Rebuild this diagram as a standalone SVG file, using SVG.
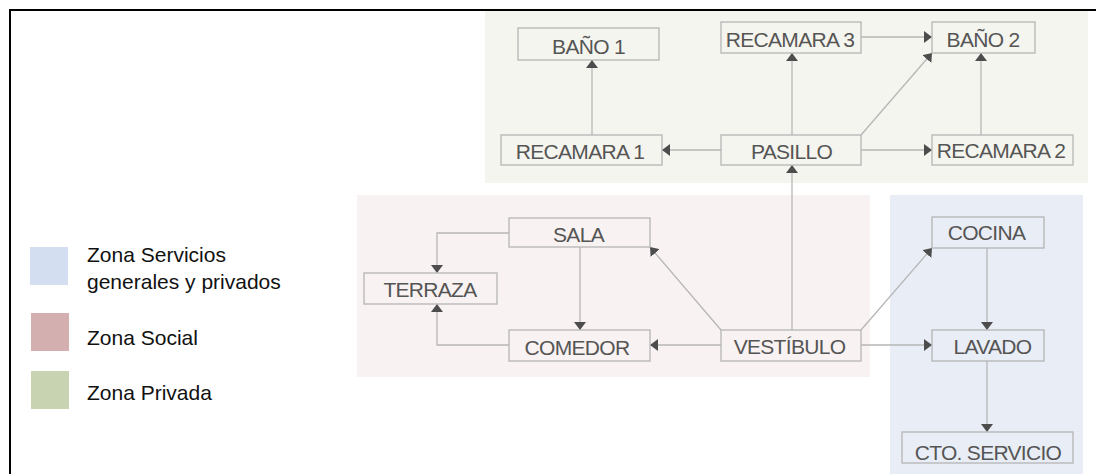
<svg xmlns="http://www.w3.org/2000/svg" width="1096" height="474" viewBox="0 0 1096 474">
  <style>
    .zone { stroke: none; }
    .node rect { fill: none; stroke: #b4b4b4; stroke-width: 1.3; }
    .node text { font-family: "Liberation Sans", Arial, sans-serif; font-size: 21px; fill: #555555; text-anchor: middle; letter-spacing: -0.7px; }
    .link { fill: none; stroke: #b6b6b6; stroke-width: 1.3; marker-end: url(#arrow); }
    .legend text { font-family: "Liberation Sans", Arial, sans-serif; font-size: 21px; fill: #111111; }
  </style>
  <defs>
    <marker id="arrow" viewBox="0 0 8 12" refX="8" refY="6" markerWidth="8" markerHeight="12" markerUnits="userSpaceOnUse" orient="auto">
      <path d="M0,0 L8,6 L0,12 Z" fill="#4d4d4d"/>
    </marker>
  </defs>

  <rect width="1096" height="474" fill="#ffffff"/>

  <!-- zone backgrounds -->
  <g id="zones">
    <rect class="zone" x="485" y="11" width="603" height="172" fill="#f5f5ef"/>
    <rect class="zone" x="357" y="195" width="513" height="182" fill="#f9f2f2"/>
    <rect class="zone" x="890" y="195" width="193" height="279" fill="#e9eef6"/>
  </g>

  <!-- outer frame -->
  <path d="M10,474 V10 H1096" fill="none" stroke="#000000" stroke-width="2"/>

  <!-- legend -->
  <g id="legend" class="legend">
    <rect x="30" y="247" width="38" height="38" fill="#d3dff0"/>
    <text x="87" y="262">Zona Servicios</text>
    <text x="87" y="289">generales y privados</text>
    <rect x="31" y="313" width="38" height="38" fill="#d4afaf"/>
    <text x="87" y="345">Zona Social</text>
    <rect x="31" y="371" width="38" height="38" fill="#c8d4b1"/>
    <text x="87" y="400">Zona Privada</text>
  </g>

  <!-- connectors -->
  <g id="connectors">
    <line class="link" x1="592" y1="135" x2="592" y2="60"/>
    <line class="link" x1="721" y1="150" x2="662" y2="150"/>
    <line class="link" x1="792" y1="135" x2="792" y2="53"/>
    <line class="link" x1="861" y1="37" x2="932" y2="37"/>
    <line class="link" x1="861" y1="135" x2="932" y2="53"/>
    <line class="link" x1="861" y1="150" x2="932" y2="150"/>
    <line class="link" x1="981" y1="135" x2="981" y2="53"/>
    <line class="link" x1="792" y1="330" x2="792" y2="165"/>
    <path class="link" d="M509,233 H437 V273"/>
    <line class="link" x1="580" y1="247" x2="580" y2="330"/>
    <path class="link" d="M509,345 H437 V304"/>
    <line class="link" x1="721" y1="345" x2="650" y2="345"/>
    <line class="link" x1="721" y1="330" x2="650" y2="247"/>
    <line class="link" x1="861" y1="330" x2="932" y2="248"/>
    <line class="link" x1="861" y1="345" x2="932" y2="345"/>
    <line class="link" x1="987" y1="248" x2="987" y2="330"/>
    <line class="link" x1="987" y1="361" x2="987" y2="432"/>
  </g>

  <!-- private zone -->
  <g id="bano1" class="node">
    <rect x="518" y="28" width="141" height="32"/>
    <text x="588.5" y="54">BAÑO 1</text>
  </g>
  <g id="recamara3" class="node">
    <rect x="721" y="22" width="140" height="31"/>
    <text x="790" y="47">RECAMARA 3</text>
  </g>
  <g id="bano2" class="node">
    <rect x="932" y="22" width="103" height="31"/>
    <text x="983" y="47">BAÑO 2</text>
  </g>
  <g id="recamara1" class="node">
    <rect x="501" y="135" width="161" height="30"/>
    <text x="580" y="159">RECAMARA 1</text>
  </g>
  <g id="pasillo" class="node">
    <rect x="721" y="135" width="140" height="30"/>
    <text x="791.5" y="159">PASILLO</text>
  </g>
  <g id="recamara2" class="node">
    <rect x="932" y="135" width="141" height="30"/>
    <text x="1001" y="158">RECAMARA 2</text>
  </g>

  <!-- social zone -->
  <g id="sala" class="node">
    <rect x="509" y="218" width="141" height="29"/>
    <text x="578.5" y="242">SALA</text>
  </g>
  <g id="terraza" class="node">
    <rect x="364" y="273" width="133" height="31"/>
    <text x="430" y="297">TERRAZA</text>
  </g>
  <g id="comedor" class="node">
    <rect x="509" y="330" width="141" height="31"/>
    <text x="577" y="355">COMEDOR</text>
  </g>
  <g id="vestibulo" class="node">
    <rect x="721" y="330" width="140" height="31"/>
    <text x="789.5" y="354">VESTÍBULO</text>
  </g>

  <!-- service zone -->
  <g id="cocina" class="node">
    <rect x="932" y="217" width="112" height="31"/>
    <text x="986.5" y="240">COCINA</text>
  </g>
  <g id="lavado" class="node">
    <rect x="932" y="330" width="112" height="31"/>
    <text x="992.5" y="354">LAVADO</text>
  </g>
  <g id="cto-servicio" class="node">
    <rect x="902" y="432" width="171" height="31"/>
    <text x="988" y="460">CTO. SERVICIO</text>
  </g>
</svg>
